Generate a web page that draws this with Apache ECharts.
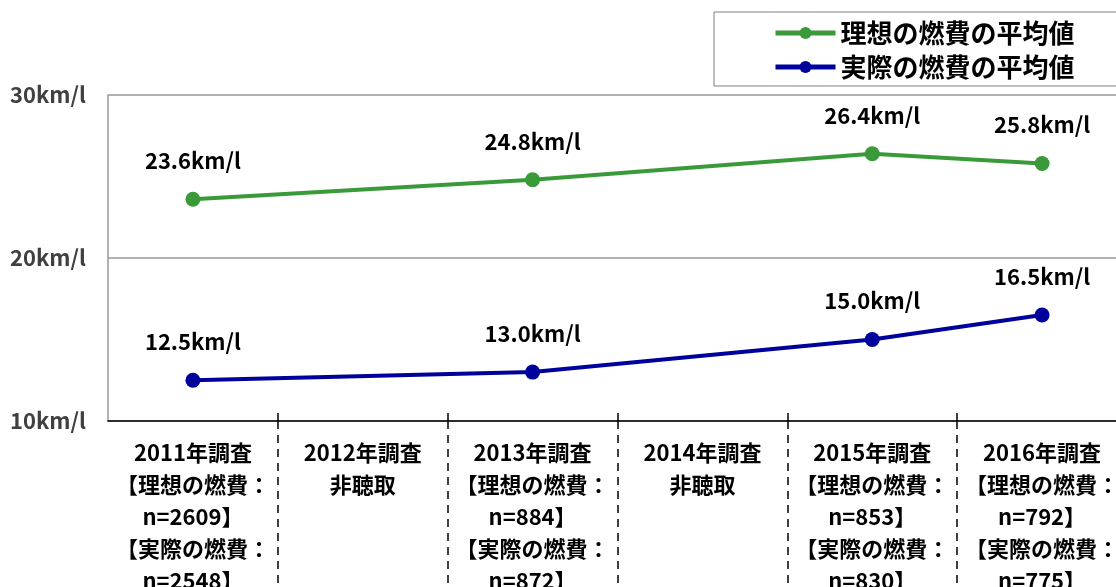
<!DOCTYPE html>
<html>
<head>
<meta charset="utf-8">
<script src="https://cdn.jsdelivr.net/npm/echarts@6/dist/echarts.min.js"></script>
<style>
  html, body { margin: 0; padding: 0; background: #fff; }
  #chart { width: 1116px; height: 587px; }
</style>
</head>
<body>
<div id="chart"></div>
<script>
const years = ["2011", "2012", "2013", "2014", "2015", "2016"];
const idealN = [2609, null, 884, null, 853, 792];
const actualN = [2548, null, 872, null, 830, 775];
const idealValues = [23.6, null, 24.8, null, 26.4, 25.8];
const actualValues = [12.5, null, 13.0, null, 15.0, 16.5];
const seriesNames = ["理想の燃費の平均値", "実際の燃費の平均値"];
const yTicks = [10, 20, 30];

const FONT = '"Noto Sans CJK JP", sans-serif';

// x軸ラベル（非聴取の年は2行のみ）
const categories = years.map((y, i) => {
  if (idealN[i] == null) return y + "年調査\n非聴取";
  return y + "年調査\n【理想の燃費：\nn=" + idealN[i] + "】\n【実際の燃費：\nn=" + actualN[i] + "】";
});

const chart = echarts.init(document.getElementById("chart"), null, { renderer: "canvas" });

function lineSeries(name, data, color) {
  return {
    name: name,
    type: "line",
    data: data,
    connectNulls: true,
    symbol: "circle",
    symbolSize: 15,
    lineStyle: { color: color, width: 4 },
    itemStyle: { color: color },
    label: {
      show: true,
      position: "top",
      distance: 20,
      formatter: (p) => p.value.toFixed(1) + "km/l",
      fontFamily: FONT,
      fontSize: 22,
      fontWeight: "bold",
      color: "#000",
    },
    animation: false,
  };
}

const option = {
  backgroundColor: "#fff",
  grid: {
    left: 108, right: -11, top: 95, bottom: 166,
    containLabel: false,
    outerBoundsMode: "none",
  },
  legend: {
    orient: "vertical",
    left: 714,
    top: 12,
    padding: [8, 60, 6, 59],
    itemGap: 8,
    itemWidth: 60,
    itemHeight: 15,
    borderColor: "#808080",
    borderWidth: 1,
    backgroundColor: "#fff",
    lineStyle: { width: 5 },
    textStyle: { fontFamily: FONT, fontSize: 26, fontWeight: "bold", color: "#000" },
    data: seriesNames,
  },
  xAxis: [
    {
      type: "category",
      data: categories,
      boundaryGap: true,
      axisLine: { show: true, lineStyle: { color: "#000", width: 1.5 } },
      axisTick: {
        show: true,
        interval: (idx) => idx > 0,
        length: 175,
        lineStyle: { color: "#000", width: 1.5, type: [8, 6] },
      },
      axisLabel: {
        interval: 0,
        margin: 16,
        fontFamily: FONT,
        fontSize: 22,
        fontWeight: "bold",
        color: "#000",
        lineHeight: 32,
        verticalAlign: "top",
      },
    },
    {
      type: "category",
      data: categories,
      position: "bottom",
      boundaryGap: true,
      axisLine: { show: false },
      axisTick: {
        show: true,
        inside: true,
        interval: (idx) => idx > 0,
        length: 8,
        lineStyle: { color: "#000", width: 1.5 },
      },
      axisLabel: { show: false },
    },
  ],
  yAxis: {
    type: "value",
    min: yTicks[0],
    max: yTicks[yTicks.length - 1],
    interval: 10,
    axisLine: { show: true, lineStyle: { color: "#999", width: 1.5 } },
    axisTick: { show: false },
    splitLine: { show: true, lineStyle: { color: "#999", width: 1.5 } },
    axisLabel: {
      margin: 22,
      formatter: "{value}km/l",
      fontFamily: FONT,
      fontSize: 22,
      fontWeight: "bold",
      color: "#404040",
    },
  },
  series: [
    lineSeries(seriesNames[0], idealValues, "#3a9a3a"),
    lineSeries(seriesNames[1], actualValues, "#00009c"),
  ],
};

chart.setOption(option);
</script>
</body>
</html>
